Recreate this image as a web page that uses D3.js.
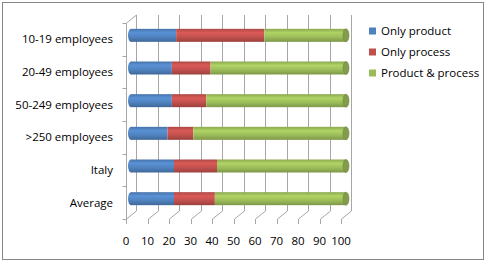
<!DOCTYPE html>
<html>
<head>
<meta charset="utf-8">
<script src="https://cdn.jsdelivr.net/npm/d3@7"></script>
<style>
body { margin: 0; background: #fff; }
text { font-family: "Open Sans", "Liberation Sans", sans-serif; fill: #000; }
</style>
</head>
<body>
<script>
// chart values
var categories = ["10-19 employees", "20-49 employees", "50-249 employees", ">250 employees", "Italy", "Average"];
var onlyProduct = [21, 19, 19, 17, 20, 20];
var onlyProcess = [41, 18, 16, 12, 20, 19];
var productProcess = [38, 63, 65, 71, 60, 61];
var seriesNames = ["Only product", "Only process", "Product & process"];
var xTicks = [0, 10, 20, 30, 40, 50, 60, 70, 80, 90, 100];

var Width = 487, Height = 264;
var colors = ["#4F81BD", "#C0504D", "#9BBB59"];
var dx = 10, dy = -8; // depth of the 3d box

var svg = d3.select("body").append("svg")
	.attr("width", Width)
	.attr("height", Height);

svg.append("rect")
	.attr("x", 2.5).attr("y", 2.5)
	.attr("width", 481).attr("height", 257)
	.attr("fill", "#fff")
	.attr("stroke", "#868686");

var x = d3.scaleLinear().domain([0, 100]).range([126, 341]);
var y = d3.scaleBand().domain(categories).range([23, 219]);

// gradients for the cylinders
var defs = svg.append("defs");
colors.forEach(function(c, i) {
	var g = defs.append("linearGradient")
		.attr("id", "grad" + i)
		.attr("x1", 0).attr("y1", 0).attr("x2", 0).attr("y2", 1);
	var base = d3.color(c);
	g.append("stop").attr("offset", "0%").attr("stop-color", base.darker(0.3));
	g.append("stop").attr("offset", "30%").attr("stop-color", base.brighter(0.35));
	g.append("stop").attr("offset", "65%").attr("stop-color", base);
	g.append("stop").attr("offset", "100%").attr("stop-color", base.darker(0.6));
});

var grid = svg.append("g")
	.attr("stroke", "#a6a6a6")
	.attr("stroke-width", 1)
	.attr("fill", "none");

var yTop = y.range()[0], yBot = y.range()[1];

// back wall verticals
xTicks.forEach(function(t) {
	var xp = Math.round(x(t)) + dx + 0.5;
	grid.append("line")
		.attr("x1", xp).attr("x2", xp)
		.attr("y1", yTop + dy).attr("y2", yBot + dy);
	// floor diagonals
	grid.append("line")
		.attr("x1", xp).attr("y1", yBot + dy)
		.attr("x2", xp - dx).attr("y2", yBot);
	// front ticks
	grid.append("line")
		.attr("x1", xp - dx).attr("x2", xp - dx)
		.attr("y1", yBot).attr("y2", yBot + 5);
});

// left wall
var x0 = Math.round(x(0)) + 0.5;
grid.append("line").attr("x1", x0).attr("x2", x0).attr("y1", yTop).attr("y2", yBot);
grid.append("line").attr("x1", x0).attr("y1", yTop).attr("x2", x0 + dx).attr("y2", yTop + dy);
categories.concat([null]).forEach(function(c, i) {
	var yp = Math.round(yTop + i * y.bandwidth()) + 0.5;
	grid.append("line").attr("x1", x0 - 4).attr("x2", x0).attr("y1", yp).attr("y2", yp);
});

// bars
var stacked = categories.map(function(c, i) {
	var vals = [onlyProduct[i], onlyProcess[i], productProcess[i]];
	var s = 0;
	return vals.map(function(v, k) {
		var seg = { cat: c, k: k, x0: s, x1: s + v };
		s += v;
		return seg;
	});
});

var barH = 13, capR = 3;
var bars = svg.append("g");
stacked.forEach(function(segs) {
	var cy = y(segs[0].cat) + y.bandwidth() / 2 + dy / 2;
	var g = bars.append("g");
	segs.forEach(function(s, k) {
		var xa = x(s.x0) + dx / 2, xb = x(s.x1) + dx / 2;
		g.append("rect")
			.attr("x", xa).attr("y", cy - barH / 2)
			.attr("width", xb - xa).attr("height", barH)
			.attr("fill", "url(#grad" + k + ")");
		if (k == 0) {
			g.append("ellipse")
				.attr("cx", xa).attr("cy", cy)
				.attr("rx", capR).attr("ry", barH / 2)
				.attr("fill", "url(#grad" + k + ")");
		}
		if (k == segs.length - 1) {
			g.append("ellipse")
				.attr("cx", xb).attr("cy", cy)
				.attr("rx", capR).attr("ry", barH / 2)
				.attr("fill", d3.color(colors[k]).darker(0.5))
				.attr("stroke", d3.color(colors[k]).darker(0.9))
				.attr("stroke-width", 0.6);
		}
	});
});

// x tick labels
svg.append("g").selectAll("text")
	.data(xTicks)
	.join("text")
	.attr("x", function(d) { return x(d); })
	.attr("y", 245)
	.attr("text-anchor", "middle")
	.attr("font-size", "11.5px")
	.text(function(d) { return d; });

// category labels
svg.append("g").selectAll("text")
	.data(categories)
	.join("text")
	.attr("x", 113)
	.attr("y", function(d) { return y(d) + y.bandwidth() / 2 + 4; })
	.attr("text-anchor", "end")
	.attr("font-size", "11.5px")
	.text(function(d) { return d; });

// legend
var legend = svg.append("g").attr("transform", "translate(369,31)");
seriesNames.forEach(function(n, i) {
	var row = legend.append("g").attr("transform", "translate(0," + (i * 21) + ")");
	row.append("rect")
		.attr("x", 0).attr("y", -3.5)
		.attr("width", 7).attr("height", 7)
		.attr("fill", colors[i]);
	row.append("text")
		.attr("x", 12).attr("y", 4)
		.attr("font-size", "11.5px")
		.text(n);
});
</script>
</body>
</html>
